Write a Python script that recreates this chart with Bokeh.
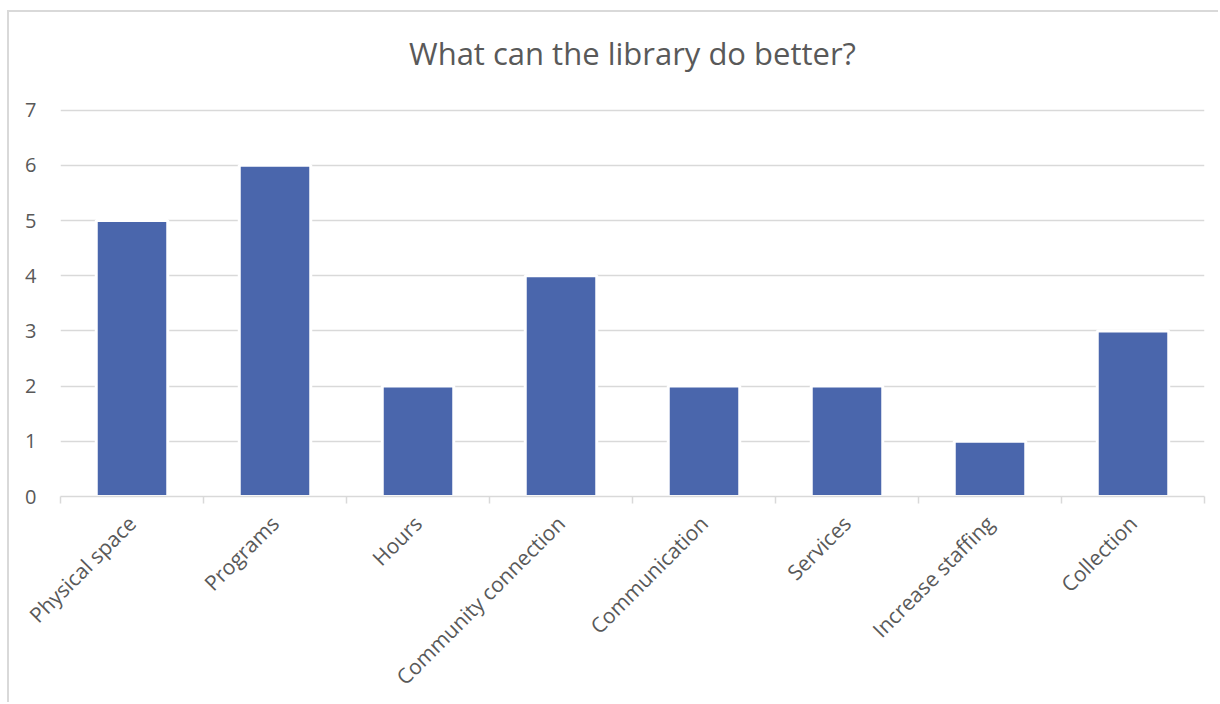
import math
from bokeh.plotting import figure
from bokeh.models import Range1d, FixedTicker, ColumnDataSource, Label
from bokeh.embed import file_html
from bokeh.resources import INLINE

title_text = "What can the library do better?"
categories = ["Physical space", "Programs", "Hours", "Community connection",
              "Communication", "Services", "Increase staffing", "Collection"]
counts = [5, 6, 2, 4, 2, 2, 1, 3]
y_ticks = [0, 1, 2, 3, 4, 5, 6, 7]

FONT = "Open Sans"
TXT = "#595959"
GRID = "#D9D9D9"
BAR = "#4A66AC"

xs = [i + 0.5 for i in range(len(categories))]
src = ColumnDataSource(dict(x=xs, top=counts, cat=categories))

# the plot frame reaches up to the top of the chart box so the title can sit inside it
p = figure(width=1211, height=692, output_backend="svg", toolbar_location=None,
           x_range=Range1d(0, len(categories)), y_range=Range1d(0, 8.77),
           min_border_left=51, min_border_right=16, min_border_top=0, min_border_bottom=208,
           margin=(10, 0, 0, 7))
p.styles = {"border-left": "2px solid #D9D9D9", "border-top": "2px solid #D9D9D9"}

p.vbar(x="x", top="top", width=0.5, bottom=0, source=src,
       fill_color=BAR, line_color="white", line_width=3)

# chart title, centred over the plot area
p.add_layout(Label(x=len(categories) / 2, y=max(y_ticks), y_offset=57, text=title_text,
                   text_font=FONT, text_font_size="31px", text_color=TXT,
                   text_align="center", text_baseline="middle"))

p.outline_line_color = None
p.xgrid.grid_line_color = None
p.ygrid.grid_line_color = GRID
p.ygrid.grid_line_width = 1.5

# y axis
p.yaxis.ticker = FixedTicker(ticks=y_ticks)
p.yaxis.axis_line_color = None
p.yaxis.major_tick_line_color = None
p.yaxis.minor_tick_line_color = None
p.yaxis.major_label_text_font = FONT
p.yaxis.major_label_text_font_size = "20px"
p.yaxis.major_label_text_color = TXT
p.yaxis.major_label_standoff = 18

# x axis: labels at category centers, ticks at category boundaries
p.xaxis.ticker = FixedTicker(ticks=xs, minor_ticks=list(range(len(categories) + 1)))
p.xaxis.major_label_overrides = {x: c for x, c in zip(xs, categories)}
p.xaxis.major_label_orientation = math.pi / 4
p.xaxis.major_tick_line_color = None
p.xaxis.minor_tick_line_color = GRID
p.xaxis.minor_tick_line_width = 1.5
p.xaxis.minor_tick_out = 7
p.xaxis.minor_tick_in = 0
p.xaxis.axis_line_color = GRID
p.xaxis.axis_line_width = 1.5
p.xaxis.major_label_text_font = FONT
p.xaxis.major_label_text_font_size = "21px"
p.xaxis.major_label_text_color = TXT
p.xaxis.major_label_standoff = 16

open("out.html", "w").write(file_html(p, INLINE))
